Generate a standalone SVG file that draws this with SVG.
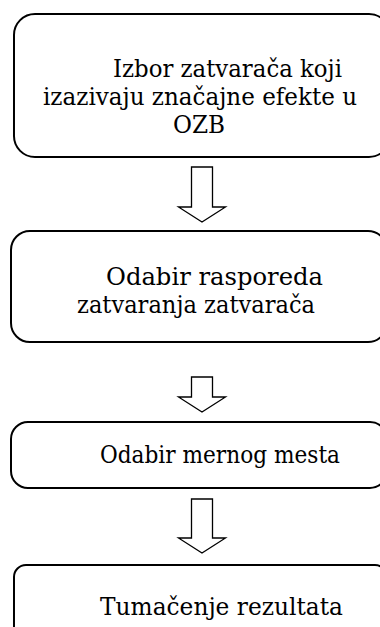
<svg xmlns="http://www.w3.org/2000/svg" width="380" height="627" viewBox="0 0 380 627">
<style>
.box{fill:#fff;stroke:#000;stroke-width:2}
.arr{fill:#fff;stroke:#000;stroke-width:1.3;stroke-linejoin:miter}
.t{font-family:'DejaVu Serif','Liberation Serif',serif;font-size:24px;fill:#000}
</style>
<rect width="380" height="627" fill="#fff"/>
<g id="connectors">
<path class="arr" d="M191.5,167 H212.5 V207 H225.5 L202,222 L178.5,207 H191.5 Z"/>
<path class="arr" d="M191.5,377 H212.5 V397 H225.5 L202,412 L178.5,397 H191.5 Z"/>
<path class="arr" d="M191.5,499 H212.5 V538 H225.5 L202,553 L178.5,538 H191.5 Z"/>
</g>
<g id="node1">
<rect class="box" x="14" y="14" width="376" height="143" rx="21" ry="21"/>
<text class="t" x="113" y="77" textLength="229" lengthAdjust="spacingAndGlyphs">Izbor zatvarača koji</text>
<text class="t" x="43" y="105" textLength="314" lengthAdjust="spacingAndGlyphs">izazivaju značajne efekte u</text>
<text class="t" x="173" y="133" textLength="52" lengthAdjust="spacingAndGlyphs">OZB</text>
</g>
<g id="node2">
<rect class="box" x="11" y="231" width="376" height="111" rx="19" ry="19"/>
<text class="t" x="106" y="285" textLength="217" lengthAdjust="spacingAndGlyphs">Odabir rasporeda</text>
<text class="t" x="77" y="313" textLength="238" lengthAdjust="spacingAndGlyphs">zatvaranja zatvarača</text>
</g>
<g id="node3">
<rect class="box" x="11" y="422" width="376" height="66" rx="17" ry="17"/>
<text class="t" x="100" y="463" textLength="240" lengthAdjust="spacingAndGlyphs">Odabir mernog mesta</text>
</g>
<g id="node4">
<rect class="box" x="14" y="565" width="373" height="80" rx="12" ry="12"/>
<text class="t" x="100" y="615" textLength="243" lengthAdjust="spacingAndGlyphs">Tumačenje rezultata</text>
</g>
</svg>
